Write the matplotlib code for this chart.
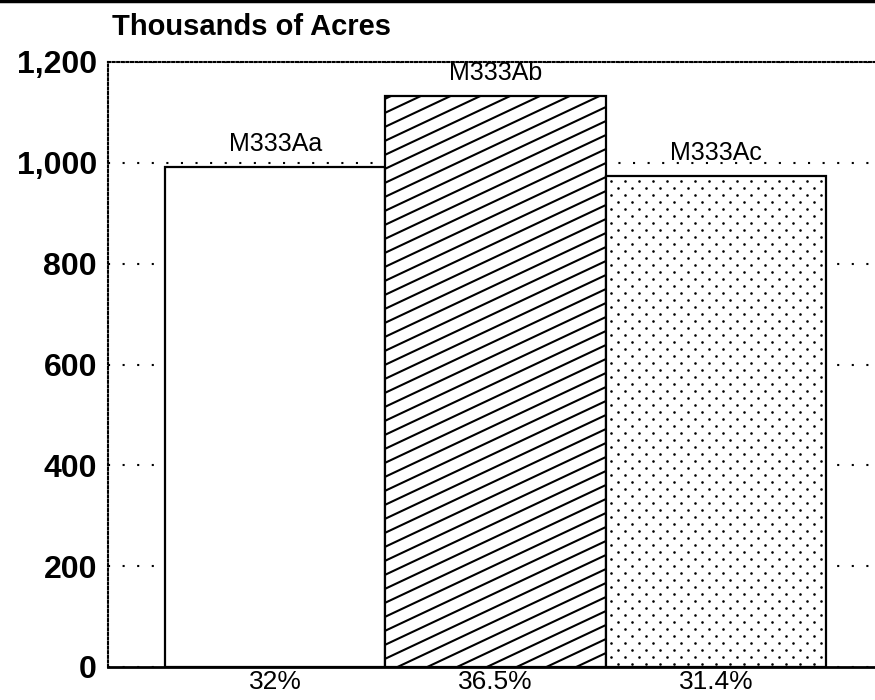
import matplotlib
matplotlib.use("Agg")
import matplotlib.pyplot as plt
from matplotlib.lines import Line2D
import numpy as np

# data
categories = ["M333Aa", "M333Ab", "M333Ac"]
acres = [992, 1133, 974]          # thousands of acres
shares = ["32%", "36.5%", "31.4%"]
yticks = [0, 200, 400, 600, 800, 1000, 1200]
ytick_labels = ["0", "200", "400", "600", "800", "1,000", "1,200"]

plt.rcParams["font.family"] = ["Liberation Sans", "DejaVu Sans"]

fig = plt.figure(figsize=(8.75, 7), dpi=100)
ax = fig.add_axes([108 / 875, 33 / 700, 1 - 108 / 875, 605 / 700])

x = np.arange(len(categories))
bars = ax.bar(x, acres, width=1.0, facecolor="white", edgecolor="black",
              linewidth=1.6, zorder=2)

ax.set_xlim(-0.758, 2.72)
ax.set_ylim(0, 1200)

# gridlines, dotted, behind the bars
ax.set_axisbelow(True)
ax.yaxis.grid(True, color="black", linewidth=1.5, linestyle=(0, (1, 6)))
ax.set_yticks(yticks)
ax.set_yticklabels(ytick_labels, fontsize=23, fontweight="bold")
ax.set_xticks(x)
ax.set_xticklabels(shares, fontsize=19)
ax.tick_params(axis="both", length=0)
ax.tick_params(axis="y", pad=8)
ax.tick_params(axis="x", pad=2)

ax.spines["right"].set_visible(False)
ax.spines["top"].set_linestyle((0, (1, 1.2)))
ax.spines["top"].set_linewidth(1.5)
ax.spines["left"].set_linestyle((0, (1, 1.2)))
ax.spines["left"].set_linewidth(1.5)
ax.spines["bottom"].set_linewidth(2)

ax.bar_label(bars, labels=categories, padding=8, fontsize=18)

# patterns drawn in pixel space, clipped to the bar
inv = ax.transData.inverted()

# diagonal hatch for the second bar
rect = bars[1]
x0, y0 = ax.transData.transform((rect.get_x(), 0))
x1, y1 = ax.transData.transform((rect.get_x() + rect.get_width(), rect.get_height()))
slope = 0.47
for c in np.arange(y0 - slope * (x1 - x0), y1 + 14, 14):
    p = inv.transform([(x0, c), (x1, c + slope * (x1 - x0))])
    ln, = ax.plot(p[:, 0], p[:, 1], color="black", linewidth=1.5, zorder=3)
    ln.set_clip_path(rect)

# staggered dots for the third bar
rect = bars[2]
x0, y0 = ax.transData.transform((rect.get_x(), 0))
x1, y1 = ax.transData.transform((rect.get_x() + rect.get_width(), rect.get_height()))
pts = []
for i, yy in enumerate(np.arange(y1 - 5, y0, -7)):
    off = 7 if i % 2 else 0
    for xx in np.arange(x0 + 5 + off, x1, 14):
        pts.append((xx, yy))
pts = inv.transform(np.array(pts))
sc = ax.scatter(pts[:, 0], pts[:, 1], s=3.5, color="black", linewidths=0, zorder=3)
sc.set_clip_path(rect)

fig.text(112 / 875, 1 - 27 / 700, "Thousands of Acres", fontsize=21,
         fontweight="bold", ha="left", va="center")

# border line along the top of the page
fig.add_artist(Line2D([0, 1], [0.998, 0.998], transform=fig.transFigure,
                      color="black", linewidth=2.5))

fig.savefig("out.png", dpi=100)
